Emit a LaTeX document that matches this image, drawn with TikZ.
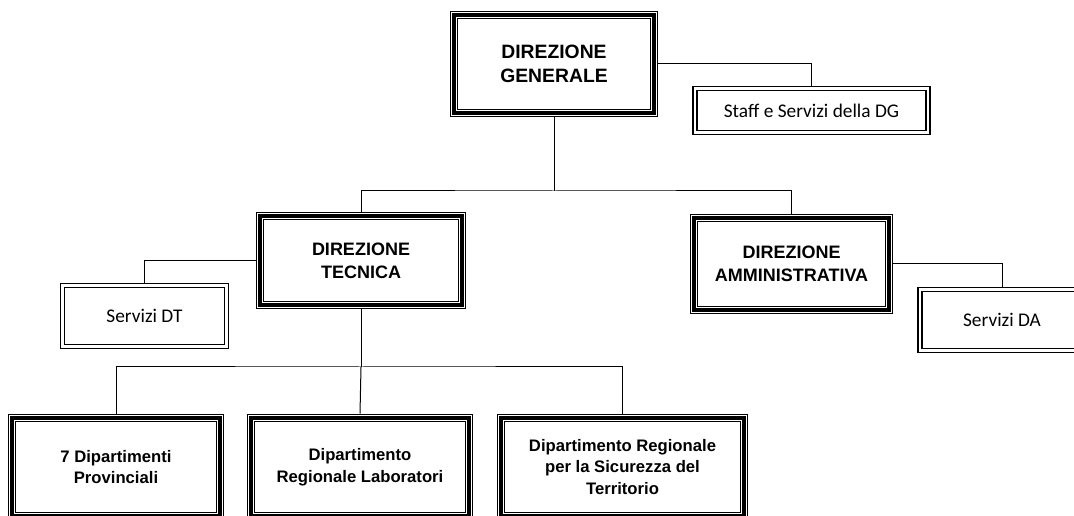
\documentclass[tikz,border=0pt]{standalone}
\usepackage{fontspec}
\setmainfont{Liberation Sans}
\newfontfamily\calibfont{Carlito}

\tikzset{
  direzione/.style={draw, line width=2.6pt,
    preaction={draw, line width=0.8pt, double, double distance=4.8pt},
    align=center, inner sep=0pt, outer sep=3.2pt},
  servizio/.style={draw, line width=1.1pt, double, double distance=1.6pt,
    align=center, inner sep=0pt, outer sep=1.9pt,
    font=\calibfont\fontsize{14.5}{17}\selectfont},
  ramo/.style={line width=0.75pt}
}

\begin{document}
\begin{tikzpicture}[x=0.75pt, y=-0.75pt]
        \useasboundingbox (0,0) rectangle (1074,516);
        % vertice
        \node[direzione, minimum width=150pt, minimum height=73.5pt,
          font=\bfseries\fontsize{14.5}{18.5}\selectfont] (dg) at (554,64) {DIREZIONE\\GENERALE};
        \node[servizio, minimum width=174.75pt, minimum height=33pt] (staff) at (811.5,110.5) {Staff e Servizi della DG};
        % direzioni
        \node[direzione, minimum width=151.5pt, minimum height=66.75pt,
          font=\bfseries\fontsize{13.5}{17}\selectfont] (dt) at (361,260.5) {DIREZIONE\\TECNICA};
        \node[direzione, minimum width=146.25pt, minimum height=69pt,
          font=\bfseries\fontsize{13.5}{17}\selectfont] (da) at (791.5,264) {DIREZIONE\\AMMINISTRATIVA};
        \node[servizio, minimum width=123pt, minimum height=45.75pt] (sdt) at (144.5,316) {Servizi DT};
        \node[servizio, minimum width=123pt, minimum height=45.75pt] (sda) at (1002,320) {Servizi DA};
        % dipartimenti
        \node[direzione, minimum width=156pt, minimum height=73.5pt,
          font=\bfseries\fontsize{12.5}{16.25}\selectfont] (d1) at (116,467) {7 Dipartimenti\\Provinciali};
        \node[direzione, minimum width=163.5pt, minimum height=73.5pt,
          font=\bfseries\fontsize{12.5}{16.25}\selectfont] (d2) at (360,467) {Dipartimento\\Regionale Laboratori};
        \node[direzione, minimum width=182.25pt, minimum height=73.5pt,
          font=\bfseries\fontsize{12.5}{16.25}\selectfont] (d3) at (622.5,467) {Dipartimento Regionale\\per la Sicurezza del\\Territorio};
        % collegamenti
        \coordinate (busA) at (554,191);
        \coordinate (busB) at (361,367);
        \draw[ramo] (dg.east) -| (staff.north);
        \draw[ramo] (dg.south) -- (busA);
        \draw[ramo] (dt.north) |- (busA) -| (da.north);
        \draw[ramo] (dt.west) -| (sdt.north);
        \draw[ramo] (da.east) -| (sda.north);
        \draw[ramo] (dt.south) -- (busB);
        \draw[ramo] (d1.north) |- (busB) -| (d3.north);
        \draw[ramo] (busB) -- (d2.north);
\end{tikzpicture}
\end{document}
